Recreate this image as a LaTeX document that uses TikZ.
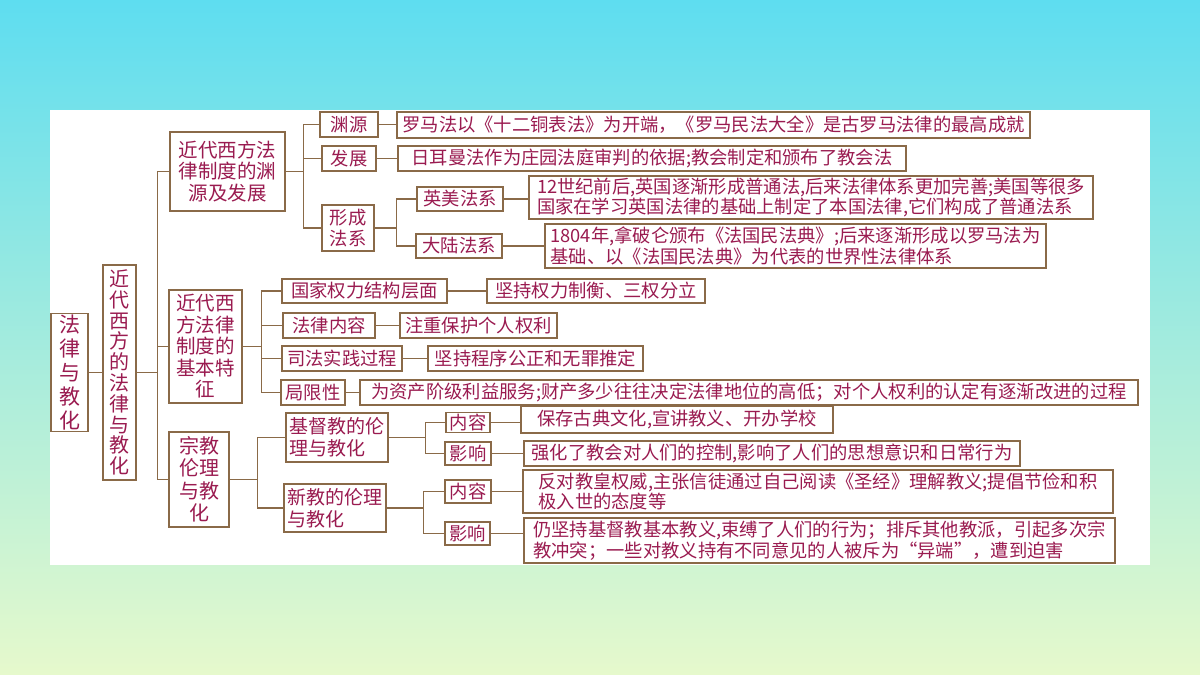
\documentclass[tikz,border=0pt]{standalone}
\usepackage{fontspec}
\newfontfamily\cjk{Noto Sans CJK SC}
\definecolor{txt}{HTML}{9A1B50}
\definecolor{brd}{HTML}{8A6A48}
\definecolor{topc}{HTML}{5EDDF0}
\definecolor{botc}{HTML}{E6F9CC}
\begin{document}
\begin{tikzpicture}[x=1pt,y=-1pt,
  bx/.style={draw=brd, line width=1.3pt, fill=white, inner sep=1pt, text=txt, align=center,
    font=\cjk\fontsize{18.3}{20.5}\selectfont},
  big/.style={bx, font=\cjk\fontsize{19.5}{21.5}\selectfont},
  lf/.style={bx, align=left},
  ln/.style={draw=brd, line width=1.3pt}]
\fill[top color=topc, bottom color=botc] (0,0) rectangle (1200,675);
\useasboundingbox (0,0) rectangle (1200,675);
\fill[white] (50,110) rectangle (1150,565);
% big boxes
\node[big, minimum width=37, minimum height=115, font=\cjk\fontsize{21}{24}\selectfont] (r1) at (69.5,372.5) {法\\律\\与\\教\\化};
\node[big, minimum width=33, minimum height=215, font=\cjk\fontsize{20}{20.8}\selectfont] (r2) at (119.5,372.5) {近\\代\\西\\方\\的\\法\\律\\与\\教\\化};
\node[big, minimum width=115, minimum height=79] (a) at (227.5,171.5) {近代西方法\\律制度的渊\\源及发展};
\node[big, minimum width=73, minimum height=113] (b) at (205.5,346.5) {近代西\\方法律\\制度的\\基本特\\征};
\node[big, minimum width=60, minimum height=95, font=\cjk\fontsize{20}{22.5}\selectfont] (c) at (199,479.5) {宗教\\伦理\\与教\\化};
% A children
\node[bx, minimum width=58, minimum height=25] (a1) at (349,124.5) {渊源};
\node[bx, minimum width=54, minimum height=25] (a2) at (349,158.5) {发展};
\node[bx, minimum width=52, minimum height=46] (a3) at (348,228) {形成\\法系};
\node[bx, minimum width=86, minimum height=24] (a31) at (460,199) {英美法系};
\node[bx, minimum width=86, minimum height=24] (a32) at (459,246) {大陆法系};
\node[lf, minimum width=633, minimum height=26] (t1) at (713.5,125) {罗马法以《十二铜表法》为开端，《罗马民法大全》是古罗马法律的最高成就};
\node[lf, minimum width=508, minimum height=25] (t2) at (652,158.5) {日耳曼法作为庄园法庭审判的依据;教会制定和颁布了教会法};
\node[lf, minimum width=564, minimum height=43] (t31) at (811,197.5) {12世纪前后,英国逐渐形成普通法,后来法律体系更加完善;美国等很多\\国家在学习英国法律的基础上制定了本国法律,它们构成了普通法系};
\node[lf, minimum width=501, minimum height=44] (t32) at (795.5,246) {1804年,拿破仑颁布《法国民法典》;后来逐渐形成以罗马法为\\基础、以《法国民法典》为代表的世界性法律体系};
% B children
\node[bx, minimum width=165, minimum height=24] (b1) at (364.5,291) {国家权力结构层面};
\node[bx, minimum width=92, minimum height=25] (b2) at (329,325.5) {法律内容};
\node[bx, minimum width=120, minimum height=25] (b3) at (342,358.5) {司法实践过程};
\node[bx, minimum width=64, minimum height=25] (b4) at (313,392.5) {局限性};
\node[bx, minimum width=218, minimum height=24] (u1) at (596,291) {坚持权力制衡、三权分立};
\node[bx, minimum width=157, minimum height=25] (u2) at (478.5,325.5) {注重保护个人权利};
\node[bx, minimum width=215, minimum height=25] (u3) at (535.5,358.5) {坚持程序公正和无罪推定};
\node[bx, minimum width=778, minimum height=25] (u4) at (749,392.5) {为资产阶级利益服务;财产多少往往决定法律地位的高低；对个人权利的认定有逐渐改进的过程};
% C children
\node[big, minimum width=102, minimum height=49, align=left, font=\cjk\fontsize{19}{22}\selectfont] (c1) at (337,437.5) {基督教的伦\\理与教化};
\node[big, minimum width=102, minimum height=48, align=left, font=\cjk\fontsize{19}{22}\selectfont] (c2) at (335,508) {新教的伦理\\与教化};
\node[bx, minimum width=44, minimum height=20] (c11) at (468,422.5) {内容};
\node[bx, minimum width=46, minimum height=23] (c12) at (468,453.5) {影响};
\node[bx, minimum width=46, minimum height=23] (c21) at (468,491.5) {内容};
\node[bx, minimum width=45, minimum height=23] (c22) at (467.5,533.5) {影响};
\node[bx, minimum width=312, minimum height=27] (v11) at (677,419.5) {保存古典文化,宣讲教义、开办学校};
\node[bx, minimum width=496, minimum height=25] (v12) at (772,453.5) {强化了教会对人们的控制,影响了人们的思想意识和日常行为};
\node[lf, minimum width=590, minimum height=43] (v21) at (818,491.5) {反对教皇权威,主张信徒通过自己阅读《圣经》理解教义;提倡节俭和积\\极入世的态度等};
\node[lf, minimum width=591, minimum height=45] (v22) at (819.5,540.5) {仍坚持基督教基本教义,束缚了人们的行为；排斥其他教派，引起多次宗\\教冲突；一些对教义持有不同意见的人被斥为“异端”，遭到迫害};
% connectors
\draw[ln] (r1.east) -- (r2.west |- r1.east);
\foreach \ch in {a,b,c} \draw[ln] (r2.east) -- ++(21,0) |- (\ch.west);
\foreach \ch in {a1,a2,a3} \draw[ln] (a.east) -- ++(18,0) |- (\ch.west);
\foreach \ch in {a31,a32} \draw[ln] (a3.east) -- ++(22,0) |- (\ch.west);
\foreach \ch in {b1,b2,b3,b4} \draw[ln] (b.east) -- ++(19,0) |- (\ch.west);
\foreach \ch in {c1,c2} \draw[ln] (c.east) -- ++(28,0) |- (\ch.west);
\foreach \ch in {c11,c12} \draw[ln] (c1.east) -- ++(37,0) |- (\ch.west);
\foreach \ch in {c21,c22} \draw[ln] (c2.east) -- ++(37,0) |- (\ch.west);
\foreach \p/\q in {a1/t1,a2/t2,a31/t31,a32/t32,b1/u1,b2/u2,b3/u3,b4/u4,c11/v11,c12/v12,c21/v21,c22/v22}
  \draw[ln] (\p.east) -- (\q.west |- \p.east);
\end{tikzpicture}
\end{document}
